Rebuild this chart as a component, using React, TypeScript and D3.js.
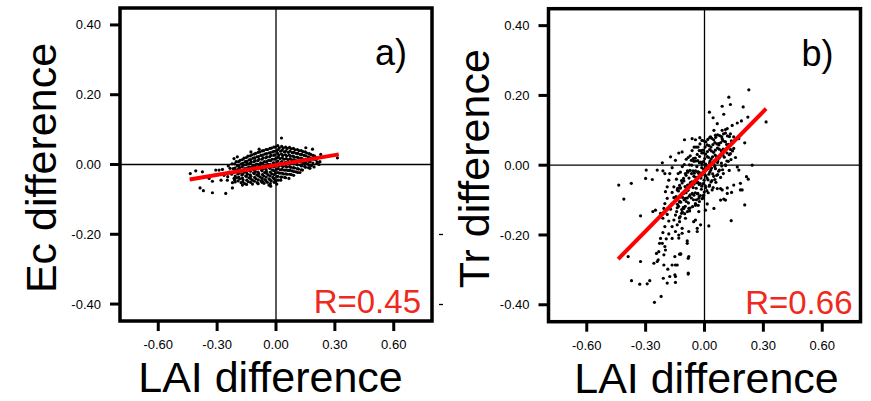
import React from "react";
import * as d3 from "d3";

// tick values and labels shared by both panels
const xTicks = [-0.6, -0.3, 0, 0.3, 0.6];
const xTickLabels = ["-0.60", "-0.30", "0.00", "0.30", "0.60"];
const yTicks = [0.4, 0.2, 0, -0.2, -0.4];
const yTickLabels = ["0.40", "0.20", "0.00", "-0.20", "-0.40"];

// panel a) LAI difference vs Ec difference
const ecOutliers: [number, number][] = [
  [-0.437, -0.026], [-0.409, -0.018], [-0.375, -0.021], [-0.387, -0.067], [-0.37, -0.075],
  [-0.324, -0.081], [-0.256, -0.083], [-0.222, -0.067], [-0.307, -0.016], [-0.29, -0.016],
  [-0.273, -0.014], [-0.341, -0.04], [-0.324, -0.048], [-0.28, -0.045], [-0.248, -0.045],
  [-0.307, -0.031], [-0.265, -0.031], [-0.234, -0.011], [-0.214, 0.017], [-0.197, 0.022],
  [-0.128, 0.036], [-0.086, 0.044], [-0.171, -0.059], [-0.12, -0.045], [0.028, 0.076],
  [0.186, 0.044], [0.152, 0.048], [0.228, 0.029], [0.313, 0.019], [0.194, -0.007],
  [0.219, 0.0], [0.173, -0.011], [-0.036, -0.059], [-0.002, -0.05], [-0.061, -0.054],
  [0.066, -0.04], [0.024, -0.045], [-0.069, -0.048], [-0.027, -0.062], [0.004, -0.056],
];
const ecCore: [number, number][] = [
  [-0.243, -0.004], [-0.238, -0.022], [-0.246, -0.035], [-0.224, 0.002], [-0.218, -0.012],
  [-0.226, -0.028], [-0.214, -0.04], [-0.222, -0.052],
  [-0.203, 0.008], [-0.198, -0.004], [-0.206, -0.016], [-0.195, -0.027], [-0.201, -0.038], [-0.208, -0.05],
  [-0.183, 0.012], [-0.177, 0.002], [-0.186, -0.009], [-0.179, -0.019], [-0.174, -0.03], [-0.185, -0.041], [-0.178, -0.052],
  [-0.163, 0.018], [-0.157, 0.008], [-0.166, -0.002], [-0.158, -0.012], [-0.162, -0.022], [-0.154, -0.033], [-0.168, -0.044], [-0.16, -0.055],
  [-0.143, 0.024], [-0.137, 0.013], [-0.146, 0.003], [-0.139, -0.007], [-0.134, -0.017], [-0.145, -0.028], [-0.138, -0.038], [-0.142, -0.049],
  [-0.123, 0.028], [-0.117, 0.018], [-0.126, 0.007], [-0.118, -0.003], [-0.122, -0.013], [-0.114, -0.024], [-0.128, -0.034], [-0.12, -0.056],
  [-0.103, 0.032], [-0.097, 0.022], [-0.106, 0.011], [-0.099, 0.001], [-0.094, -0.009], [-0.105, -0.02], [-0.098, -0.03], [-0.102, -0.041], [-0.096, -0.052],
  [-0.083, 0.036], [-0.077, 0.026], [-0.086, 0.015], [-0.078, 0.005], [-0.082, -0.005], [-0.074, -0.015], [-0.088, -0.026], [-0.08, -0.036], [-0.076, -0.047],
  [-0.063, 0.04], [-0.057, 0.03], [-0.066, 0.019], [-0.059, 0.008], [-0.054, -0.002], [-0.065, -0.012], [-0.058, -0.023], [-0.062, -0.033], [-0.056, -0.043],
  [-0.043, 0.043], [-0.037, 0.033], [-0.046, 0.022], [-0.038, 0.012], [-0.042, 0.001], [-0.034, -0.009], [-0.048, -0.02], [-0.04, -0.03], [-0.036, -0.041], [-0.044, -0.051],
  [-0.023, 0.047], [-0.017, 0.036], [-0.026, 0.026], [-0.019, 0.015], [-0.014, 0.005], [-0.025, -0.006], [-0.018, -0.016], [-0.022, -0.027], [-0.016, -0.037], [-0.024, -0.047],
  [-0.003, 0.05], [0.003, 0.039], [-0.006, 0.028], [0.001, 0.018], [0.006, 0.007], [-0.005, -0.003], [0.002, -0.014], [-0.002, -0.024], [0.004, -0.035], [-0.004, -0.045],
  [0.017, 0.048], [0.023, 0.038], [0.014, 0.027], [0.021, 0.017], [0.026, 0.006], [0.015, -0.004], [0.022, -0.015], [0.018, -0.025], [0.024, -0.036],
  [0.037, 0.047], [0.043, 0.036], [0.034, 0.026], [0.041, 0.015], [0.046, 0.005], [0.035, -0.006], [0.042, -0.016], [0.038, -0.027], [0.044, -0.037],
  [0.057, 0.046], [0.063, 0.035], [0.054, 0.025], [0.061, 0.014], [0.066, 0.004], [0.055, -0.007], [0.062, -0.017], [0.058, -0.028],
  [0.077, 0.045], [0.083, 0.034], [0.074, 0.024], [0.081, 0.013], [0.086, 0.003], [0.075, -0.008], [0.082, -0.018], [0.078, -0.029],
  [0.097, 0.042], [0.103, 0.032], [0.094, 0.021], [0.101, 0.011], [0.106, 0.0], [0.095, -0.01], [0.102, -0.021],
  [0.117, 0.04], [0.123, 0.029], [0.114, 0.019], [0.121, 0.008], [0.126, -0.002], [0.115, -0.013], [0.122, -0.023],
  [0.137, 0.037], [0.143, 0.026], [0.134, 0.016], [0.141, 0.005], [0.146, -0.005], [0.135, -0.016],
  [0.157, 0.033], [0.163, 0.022], [0.154, 0.012], [0.161, 0.001], [0.166, -0.009],
  [0.177, 0.029], [0.183, 0.018], [0.174, 0.008], [0.181, -0.003],
  [0.197, 0.024], [0.203, 0.013], [0.208, 0.003], [0.218, 0.02], [0.224, 0.008],
];
const ecFill: [number, number][] = [
  [-0.211, 0.002], [-0.209, -0.01], [-0.212, -0.022], [-0.208, -0.033], [-0.21, -0.045],
  [-0.191, 0.008], [-0.189, -0.003], [-0.192, -0.014], [-0.188, -0.025], [-0.19, -0.036], [-0.193, -0.047],
  [-0.171, 0.014], [-0.169, 0.003], [-0.172, -0.007], [-0.168, -0.017], [-0.17, -0.028], [-0.171, -0.039], [-0.169, -0.05],
  [-0.151, 0.02], [-0.149, 0.009], [-0.152, -0.001], [-0.148, -0.012], [-0.15, -0.023], [-0.151, -0.034], [-0.149, -0.045], [-0.15, -0.057],
  [-0.131, 0.025], [-0.129, 0.014], [-0.132, 0.003], [-0.128, -0.008], [-0.13, -0.019], [-0.131, -0.03], [-0.129, -0.041], [-0.13, -0.051],
  [-0.111, 0.03], [-0.109, 0.019], [-0.112, 0.008], [-0.108, -0.004], [-0.11, -0.015], [-0.111, -0.026], [-0.109, -0.037], [-0.11, -0.048],
  [-0.091, 0.035], [-0.089, 0.023], [-0.092, 0.011], [-0.088, 0.0], [-0.09, -0.011], [-0.091, -0.022], [-0.089, -0.033], [-0.09, -0.044], [-0.091, -0.055],
  [-0.071, 0.039], [-0.069, 0.027], [-0.072, 0.015], [-0.068, 0.004], [-0.07, -0.007], [-0.071, -0.018], [-0.069, -0.029], [-0.07, -0.04], [-0.071, -0.051],
  [-0.051, 0.043], [-0.049, 0.031], [-0.052, 0.019], [-0.048, 0.008], [-0.05, -0.003], [-0.051, -0.014], [-0.049, -0.025], [-0.05, -0.036], [-0.051, -0.047],
  [-0.031, 0.046], [-0.029, 0.034], [-0.032, 0.022], [-0.028, 0.011], [-0.03, 0.0], [-0.031, -0.011], [-0.029, -0.022], [-0.03, -0.033], [-0.031, -0.044], [-0.029, -0.055],
  [-0.011, 0.05], [-0.009, 0.038], [-0.012, 0.026], [-0.008, 0.015], [-0.01, 0.004], [-0.011, -0.007], [-0.009, -0.018], [-0.01, -0.029], [-0.011, -0.04], [-0.009, -0.051],
  [0.009, 0.054], [0.011, 0.043], [0.008, 0.032], [0.012, 0.021], [0.01, 0.01], [0.009, -0.001], [0.011, -0.012], [0.01, -0.023], [0.009, -0.034], [0.011, -0.045],
  [0.029, 0.052], [0.031, 0.041], [0.028, 0.03], [0.032, 0.019], [0.03, 0.008], [0.029, -0.003], [0.031, -0.014], [0.03, -0.025], [0.029, -0.036],
  [0.049, 0.05], [0.051, 0.039], [0.048, 0.028], [0.052, 0.017], [0.05, 0.006], [0.049, -0.005], [0.051, -0.016], [0.05, -0.027], [0.049, -0.038],
  [0.069, 0.049], [0.071, 0.038], [0.068, 0.027], [0.072, 0.016], [0.07, 0.005], [0.069, -0.006], [0.071, -0.017], [0.07, -0.028],
  [0.089, 0.046], [0.091, 0.035], [0.088, 0.024], [0.092, 0.013], [0.09, 0.002], [0.089, -0.009], [0.091, -0.02], [0.09, -0.031],
  [0.109, 0.043], [0.111, 0.032], [0.108, 0.021], [0.112, 0.01], [0.11, -0.001], [0.109, -0.012], [0.111, -0.023],
  [0.129, 0.04], [0.131, 0.029], [0.128, 0.018], [0.132, 0.007], [0.13, -0.004], [0.129, -0.015],
  [0.149, 0.036], [0.151, 0.025], [0.148, 0.014], [0.152, 0.003], [0.15, -0.008],
  [0.169, 0.031], [0.171, 0.02], [0.168, 0.009], [0.172, -0.002],
  [0.189, 0.026], [0.191, 0.015], [0.188, 0.004], [0.209, 0.018], [0.211, 0.007],
];
const ecFit: [number, number][] = [[-0.44, -0.043], [0.32, 0.029]];

// panel b) LAI difference vs Tr difference
const trOutliers: [number, number][] = [
  [0.226, 0.216], [0.124, 0.195], [0.132, 0.174], [0.09, 0.169], [0.197, 0.167], [0.025, 0.152],
  [0.098, 0.146], [0.044, 0.136], [0.221, 0.138], [0.188, 0.127], [0.314, 0.124], [0.167, 0.121],
  [0.141, 0.114], [0.065, 0.119], [0.048, 0.1], [0.09, 0.1], [0.116, 0.105], [0.107, 0.102],
  [0.132, 0.09], [0.149, 0.081], [0.175, 0.076], [0.205, 0.064], [0.056, 0.086], [0.031, 0.081],
  [0.09, 0.076], [0.073, 0.062], [0.107, 0.067], [0.124, 0.057], [0.149, 0.048], [0.132, 0.033],
  [0.158, 0.022], [0.167, -0.005], [0.175, -0.014], [0.243, 0.0], [0.214, -0.033], [0.223, -0.04],
  [0.183, -0.052], [0.192, -0.071], [0.205, -0.114], [0.136, -0.159], [0.048, -0.124], [0.022, -0.174],
  [0.098, -0.097], [0.116, -0.081], [0.082, -0.067], [0.149, -0.057], [0.107, -0.1], [0.082, -0.1],
  [0.014, -0.111], [0.005, -0.129], [-0.029, -0.133], [-0.046, -0.11], [-0.029, -0.095], [-0.004, -0.086],
  [0.039, -0.071], [0.065, -0.067], [0.09, -0.071], [0.116, -0.065], [0.138, -0.078], [0.183, -0.071],
  [-0.102, 0.073], [-0.063, 0.076], [-0.046, 0.073], [-0.024, 0.079], [-0.131, 0.035], [-0.173, 0.024],
  [-0.215, 0.007], [-0.297, -0.014], [-0.241, -0.014], [-0.266, -0.041], [-0.3, -0.038], [-0.437, -0.057],
  [-0.373, -0.052], [-0.411, -0.097], [-0.326, -0.145], [-0.212, -0.016], [-0.202, -0.024], [-0.177, -0.024],
  [-0.182, -0.043], [-0.165, -0.007], [-0.148, 0.014], [-0.114, 0.038],
  [-0.389, -0.262], [-0.326, -0.276], [-0.372, -0.331], [-0.33, -0.341], [-0.292, -0.34], [-0.279, -0.331],
  [-0.255, -0.393], [-0.221, -0.376], [-0.258, -0.281], [-0.241, -0.276], [-0.215, -0.224], [-0.233, -0.248],
  [-0.207, -0.286], [-0.187, -0.298], [-0.148, -0.286], [-0.151, -0.314], [-0.177, -0.319], [-0.19, -0.338],
  [-0.148, -0.336], [-0.083, -0.309], [-0.127, -0.255], [-0.08, -0.262], [-0.088, -0.224], [-0.037, -0.19],
  [-0.02, -0.171], [-0.046, -0.157], [-0.21, -0.324], [-0.165, -0.286], [-0.236, -0.271], [-0.245, -0.253],
  [-0.207, -0.257], [-0.199, -0.243], [-0.229, -0.224], [-0.202, -0.233], [-0.151, -0.262], [-0.121, -0.254],
  [-0.224, -0.21], [-0.195, -0.211], [-0.165, -0.21], [-0.182, -0.197], [-0.212, -0.193], [-0.148, -0.19],
  [-0.131, -0.2], [-0.202, -0.176], [-0.165, -0.176], [-0.139, -0.171], [-0.114, -0.181], [-0.182, -0.16],
  [-0.156, -0.157], [-0.127, -0.162], [-0.212, -0.152], [-0.224, -0.138], [-0.19, -0.141], [-0.148, -0.143],
  [-0.117, -0.138], [-0.207, -0.124], [-0.173, -0.126], [-0.139, -0.122], [-0.105, -0.124], [-0.202, -0.11],
  [-0.165, -0.11], [-0.127, -0.105], [-0.263, -0.133], [-0.25, -0.129], [-0.19, -0.095], [-0.156, -0.093],
  [-0.122, -0.091], [-0.097, -0.095], [-0.199, -0.076], [-0.165, -0.078], [-0.139, -0.071], [-0.114, -0.081],
  [-0.19, -0.062], [-0.156, -0.062], [-0.122, -0.065], [-0.08, -0.124], [-0.097, -0.152], [-0.055, -0.162],
  [-0.037, -0.181], [-0.08, -0.19], [-0.114, -0.195], [-0.131, -0.209], [-0.088, -0.217], [-0.122, -0.255],
  [-0.083, -0.267], [-0.139, -0.286], [-0.083, -0.312], [-0.148, -0.319],
];
const trCore: [number, number][] = [
  [-0.143, -0.04], [-0.137, -0.066], [-0.145, -0.09], [-0.138, -0.112], [-0.142, -0.133],
  [-0.123, -0.02], [-0.117, -0.044], [-0.126, -0.066], [-0.119, -0.086], [-0.121, -0.106], [-0.116, -0.127], [-0.124, -0.147],
  [-0.103, 0.002], [-0.097, -0.024], [-0.105, -0.045], [-0.099, -0.061], [-0.094, -0.079], [-0.104, -0.099], [-0.098, -0.118], [-0.101, -0.139],
  [-0.083, 0.022], [-0.077, 0.001], [-0.085, -0.02], [-0.079, -0.037], [-0.074, -0.054], [-0.084, -0.072], [-0.078, -0.089], [-0.082, -0.108], [-0.076, -0.131],
  [-0.063, 0.042], [-0.057, 0.019], [-0.065, 0.0], [-0.059, -0.016], [-0.054, -0.032], [-0.064, -0.048], [-0.058, -0.064], [-0.062, -0.081], [-0.056, -0.099], [-0.061, -0.119],
  [-0.043, 0.052], [-0.037, 0.031], [-0.045, 0.012], [-0.039, -0.004], [-0.034, -0.02], [-0.044, -0.035], [-0.038, -0.05], [-0.042, -0.066], [-0.036, -0.082], [-0.041, -0.099], [-0.046, -0.115],
  [-0.023, 0.061], [-0.017, 0.042], [-0.025, 0.025], [-0.019, 0.009], [-0.014, -0.007], [-0.024, -0.022], [-0.018, -0.037], [-0.022, -0.053], [-0.016, -0.069], [-0.021, -0.087], [-0.026, -0.104],
  [-0.003, 0.07], [0.003, 0.052], [-0.005, 0.035], [0.001, 0.019], [0.006, 0.003], [-0.004, -0.012], [0.002, -0.027], [-0.002, -0.043], [0.004, -0.059], [-0.001, -0.077], [-0.006, -0.094],
  [0.017, 0.074], [0.023, 0.056], [0.015, 0.039], [0.021, 0.022], [0.026, 0.006], [0.016, -0.01], [0.022, -0.026], [0.018, -0.042], [0.024, -0.06], [0.019, -0.079],
  [0.037, 0.077], [0.043, 0.059], [0.035, 0.041], [0.041, 0.024], [0.046, 0.008], [0.036, -0.008], [0.042, -0.025], [0.038, -0.044], [0.044, -0.064],
  [0.057, 0.08], [0.063, 0.061], [0.055, 0.043], [0.061, 0.025], [0.066, 0.008], [0.056, -0.01], [0.062, -0.029], [0.058, -0.049],
  [0.077, 0.085], [0.083, 0.065], [0.075, 0.046], [0.081, 0.026], [0.086, 0.006], [0.076, -0.014], [0.082, -0.035],
  [0.097, 0.09], [0.103, 0.068], [0.095, 0.046], [0.101, 0.023], [0.106, 0.001], [0.096, -0.024],
  [0.117, 0.084], [0.123, 0.06], [0.115, 0.035], [0.121, 0.011], [0.126, -0.015],
  [0.137, 0.07], [0.143, 0.041], [0.135, 0.016],
];
const trFill: [number, number][] = [
  [-0.134, -0.024], [-0.127, -0.058], [-0.133, -0.074], [-0.126, -0.104], [-0.132, -0.118], [-0.128, -0.151],
  [-0.113, -0.004], [-0.107, -0.038], [-0.114, -0.051], [-0.106, -0.081], [-0.112, -0.092], [-0.108, -0.121], [-0.113, -0.134],
  [-0.093, 0.017], [-0.087, -0.016], [-0.094, -0.029], [-0.086, -0.057], [-0.092, -0.066], [-0.088, -0.094], [-0.093, -0.104], [-0.087, -0.133],
  [-0.073, 0.027], [-0.067, 0.014], [-0.074, -0.015], [-0.066, -0.024], [-0.072, -0.05], [-0.068, -0.058], [-0.073, -0.085], [-0.067, -0.094], [-0.074, -0.123],
  [-0.053, 0.052], [-0.047, 0.02], [-0.054, 0.011], [-0.046, -0.016], [-0.052, -0.023], [-0.048, -0.048], [-0.053, -0.054], [-0.047, -0.079], [-0.054, -0.086], [-0.046, -0.113],
  [-0.033, 0.052], [-0.027, 0.042], [-0.034, 0.013], [-0.026, 0.007], [-0.032, -0.019], [-0.028, -0.025], [-0.033, -0.049], [-0.027, -0.055], [-0.034, -0.081], [-0.026, -0.089], [-0.032, -0.115],
  [-0.013, 0.071], [-0.007, 0.043], [-0.014, 0.035], [-0.006, 0.01], [-0.012, 0.003], [-0.008, -0.022], [-0.013, -0.028], [-0.007, -0.053], [-0.014, -0.06], [-0.006, -0.087], [-0.012, -0.096],
  [0.007, 0.067], [0.013, 0.058], [0.006, 0.032], [0.014, 0.025], [0.008, 0.0], [0.012, -0.006], [0.007, -0.031], [0.013, -0.037], [0.006, -0.064], [0.012, -0.073],
  [0.027, 0.08], [0.033, 0.052], [0.026, 0.045], [0.034, 0.018], [0.028, 0.012], [0.032, -0.014], [0.027, -0.02], [0.033, -0.048], [0.026, -0.057],
  [0.047, 0.073], [0.053, 0.065], [0.046, 0.037], [0.054, 0.029], [0.048, 0.003], [0.052, -0.004], [0.047, -0.032], [0.053, -0.041],
  [0.067, 0.087], [0.073, 0.058], [0.066, 0.049], [0.074, 0.02], [0.068, 0.012], [0.072, -0.017], [0.067, -0.027],
  [0.087, 0.082], [0.093, 0.071], [0.086, 0.041], [0.094, 0.029], [0.088, -0.002], [0.092, -0.013],
  [0.107, 0.092], [0.113, 0.059], [0.106, 0.045], [0.114, 0.012], [0.108, -0.001],
  [0.127, 0.082], [0.133, 0.045], [0.126, 0.03],
];
const trFit: [number, number][] = [[-0.44, -0.269], [0.314, 0.162]];

const FONT = "'Liberation Sans', Arial, Helvetica, sans-serif";

interface PanelProps {
  dx: number;
  dy: number;
  points: [number, number][];
  fit: [number, number][];
  yTitle: string;
  yTitleX: number;
  xTitleX: number;
  letter: string;
  letterX: number;
  rText: string;
  rX: number;
}

const Panel: React.FC<PanelProps> = ({
  dx, dy, points, fit, yTitle, yTitleX, xTitleX, letter, letterX, rText, rX,
}) => {
  const left = 120, right = 432, top = 8, bottom = 321;
  const x = d3.scaleLinear().domain([-0.795, 0.795]).range([left, right]);
  const y = d3.scaleLinear().domain([-0.45, 0.45]).range([bottom + 0.5, top - 0.5]);
  const line = d3.line<[number, number]>().x((d) => x(d[0])).y((d) => y(d[1]));

  return (
    <g transform={`translate(${dx},${dy})`}>
      {/* quadrant lines */}
      <line x1={x(0)} x2={x(0)} y1={top} y2={bottom} stroke="#000" strokeWidth={1.3} />
      <line x1={left} x2={right} y1={y(0)} y2={y(0)} stroke="#000" strokeWidth={1.3} />

      {points.map((d, i) => (
        <circle key={i} cx={x(d[0])} cy={y(d[1])} r={1.6} fill="#000" />
      ))}

      <path d={line(fit) || ""} stroke="#ff0000" strokeWidth={4} fill="none" />

      <rect x={left} y={top} width={right - left} height={bottom - top}
        fill="none" stroke="#000" strokeWidth={3.5} />

      {yTicks.map((t, i) => (
        <g key={"y" + i}>
          <line x1={left - 10} x2={left} y1={y(t)} y2={y(t)} stroke="#000" strokeWidth={3} />
          <text x={left - 19} y={y(t)} dy="0.35em" textAnchor="end" fontSize={13} fontFamily={FONT}>
            {yTickLabels[i]}
          </text>
        </g>
      ))}
      {xTicks.map((t, i) => (
        <g key={"x" + i}>
          <line x1={x(t)} x2={x(t)} y1={bottom} y2={bottom + 10} stroke="#000" strokeWidth={3} />
          <text x={x(t)} y={349} textAnchor="middle" fontSize={13} fontFamily={FONT}>
            {xTickLabels[i]}
          </text>
        </g>
      ))}

      <text x={letterX} y={65} textAnchor="end" fontSize={36} fontFamily={FONT}>{letter}</text>
      <text x={rX} y={313} textAnchor="end" fontSize={33} fontFamily={FONT} fill="#ee2a1f">{rText}</text>

      <text transform={`translate(${yTitleX},168) rotate(-90)`} textAnchor="middle"
        fontSize={43} fontFamily={FONT}>{yTitle}</text>
      <text x={xTitleX} y={392} textAnchor="middle" fontSize={43} fontFamily={FONT}>
        LAI difference
      </text>
    </g>
  );
};

export default function App() {
  return (
    <svg width={871} height={401} style={{ position: "absolute", left: 0, top: 0, background: "#fff" }}>
      <Panel dx={0} dy={0} points={[...ecCore, ...ecFill, ...ecOutliers]} fit={ecFit}
        yTitle="Ec difference" yTitleX={56} xTitleX={270.5}
        letter="a)" letterX={407} rText="R=0.45" rX={421} />
      <Panel dx={428.5} dy={0.7} points={[...trCore, ...trFill, ...trOutliers]} fit={trFit}
        yTitle="Tr difference" yTitleX={60} xTitleX={278}
        letter="b)" letterX={405} rText="R=0.66" rX={424} />
      {/* stray minus marks left of panel b */}
      <line x1={439} x2={443} y1={234.5} y2={234.5} stroke="#000" strokeWidth={1.3} />
      <line x1={439} x2={443} y1={304.5} y2={304.5} stroke="#000" strokeWidth={1.3} />
    </svg>
  );
}
